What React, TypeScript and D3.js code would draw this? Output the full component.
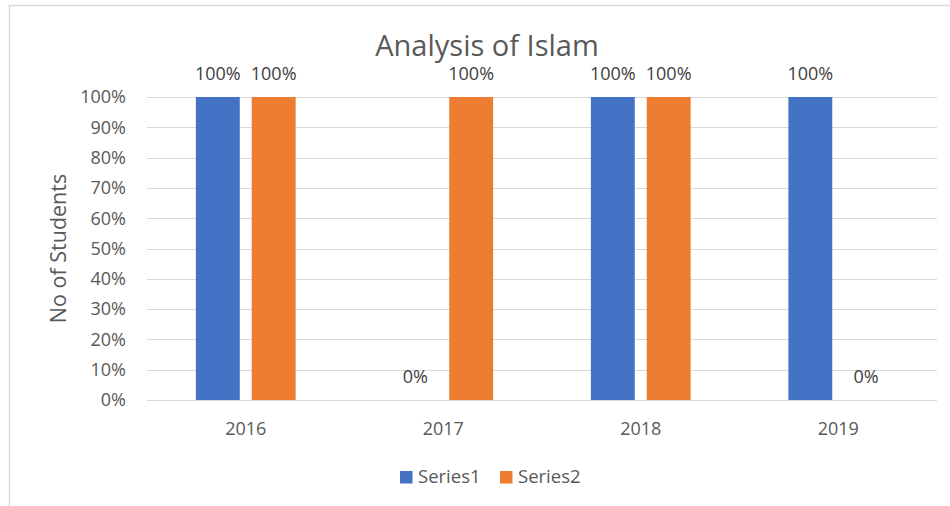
import * as d3 from "d3";
import { useEffect, useRef } from "react";

// chart data
const categories = ["2016", "2017", "2018", "2019"];
const seriesNames = ["Series1", "Series2"];
const series1 = [1, 0, 1, 1];
const series2 = [1, 1, 1, 0];
const yTicks = [0, 0.1, 0.2, 0.3, 0.4, 0.5, 0.6, 0.7, 0.8, 0.9, 1];
const colors = ["#4472C4", "#ED7D31"];

const W = 950;
const H = 506;
const FONT = "'Open Sans', 'Liberation Sans', sans-serif";
const FS = 18;

export default function App() {
  const svgRef = useRef<SVGSVGElement | null>(null);

  useEffect(() => {
    const svg = d3.select(svgRef.current);
    svg.selectAll("*").remove();

    const margin = { left: 147, right: 13, top: 97, bottom: 106 };
    const width = W - margin.left - margin.right;
    const height = H - margin.top - margin.bottom;

    // chart border
    svg
      .append("rect")
      .attr("x", 9.5)
      .attr("y", 5.5)
      .attr("width", W + 20)
      .attr("height", H + 20)
      .attr("fill", "#fff")
      .attr("stroke", "#d9d9d9")
      .attr("stroke-width", 1.5);

    const g = svg.append("g").attr("transform", `translate(${margin.left},${margin.top})`);

    const x = d3.scaleBand().domain(categories).range([0, width]);
    const xs = d3
      .scaleBand()
      .domain(seriesNames)
      .range([0, x.bandwidth()])
      .paddingInner(0.214)
      .paddingOuter(0.875);
    const y = d3.scaleLinear().domain([0, 1]).range([height, 0]);

    // gridlines
    g.selectAll("line.grid")
      .data(yTicks)
      .enter()
      .append("line")
      .attr("x1", 0)
      .attr("x2", width)
      .attr("y1", (d) => Math.round(y(d)) + 0.5)
      .attr("y2", (d) => Math.round(y(d)) + 0.5)
      .attr("stroke", "#d9d9d9")
      .attr("stroke-width", 1);

    // y tick labels
    g.selectAll("text.ytick")
      .data(yTicks)
      .enter()
      .append("text")
      .attr("x", -21)
      .attr("y", (d) => y(d))
      .attr("dy", "0.35em")
      .attr("text-anchor", "end")
      .attr("font-family", FONT)
      .attr("font-size", FS)
      .attr("fill", "#595959")
      .text((d) => d3.format(".0%")(d));

    // x labels
    g.selectAll("text.xtick")
      .data(categories)
      .enter()
      .append("text")
      .attr("x", (d) => (x(d) as number) + x.bandwidth() / 2)
      .attr("y", height + 29)
      .attr("dy", "0.35em")
      .attr("text-anchor", "middle")
      .attr("font-family", FONT)
      .attr("font-size", FS)
      .attr("fill", "#595959")
      .text((d) => d);

    // bars
    const rows = categories.map((c, i) => ({ c, vals: [series1[i], series2[i]] }));
    const grp = g
      .selectAll("g.cat")
      .data(rows)
      .enter()
      .append("g")
      .attr("transform", (d) => `translate(${x(d.c)},0)`);

    const cells = grp
      .selectAll("g.cell")
      .data((d) => d.vals.map((v, k) => ({ s: seriesNames[k], v, k })))
      .enter()
      .append("g");

    cells
      .append("rect")
      .attr("x", (d) => xs(d.s) as number)
      .attr("y", (d) => y(d.v))
      .attr("width", xs.bandwidth())
      .attr("height", (d) => height - y(d.v))
      .attr("fill", (d) => colors[d.k]);

    // data labels
    cells
      .append("text")
      .attr("x", (d) => (xs(d.s) as number) + xs.bandwidth() / 2)
      .attr("y", (d) => y(d.v) - 23)
      .attr("dy", "0.35em")
      .attr("text-anchor", "middle")
      .attr("font-family", FONT)
      .attr("font-size", FS)
      .attr("fill", "#404040")
      .text((d) => d3.format(".0%")(d.v));

    // title
    svg
      .append("text")
      .attr("x", 487)
      .attr("y", 46)
      .attr("dy", "0.35em")
      .attr("text-anchor", "middle")
      .attr("font-family", FONT)
      .attr("font-size", 29)
      .attr("fill", "#595959")
      .text("Analysis of Islam");

    // y axis title
    svg
      .append("text")
      .attr("transform", `translate(58,${margin.top + height / 2}) rotate(-90)`)
      .attr("dy", "0.35em")
      .attr("text-anchor", "middle")
      .attr("font-family", FONT)
      .attr("font-size", 21.5)
      .attr("fill", "#595959")
      .text("No of Students");

    // legend
    const lx = [400, 500];
    const leg = svg
      .selectAll("g.leg")
      .data(seriesNames)
      .enter()
      .append("g")
      .attr("transform", (d, i) => `translate(${lx[i]},477)`);
    leg
      .append("rect")
      .attr("x", 0)
      .attr("y", -6)
      .attr("width", 12.5)
      .attr("height", 12.5)
      .attr("fill", (d, i) => colors[i]);
    leg
      .append("text")
      .attr("x", 18)
      .attr("y", 0)
      .attr("dy", "0.35em")
      .attr("font-family", FONT)
      .attr("font-size", 18.5)
      .attr("fill", "#595959")
      .text((d) => d);
  }, []);

  return (
    <svg
      ref={svgRef}
      width={W}
      height={H}
      style={{ position: "absolute", left: 0, top: 0, background: "#fff" }}
    />
  );
}
